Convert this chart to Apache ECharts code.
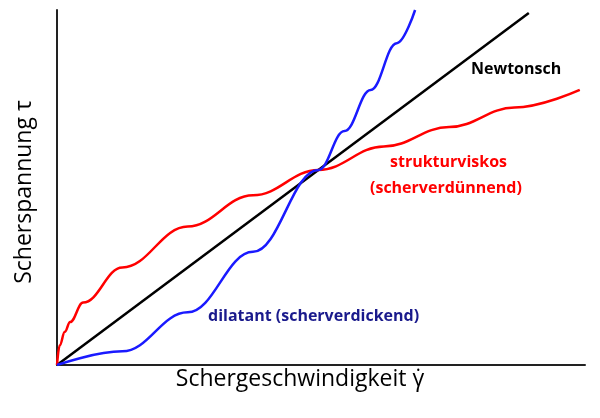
<!DOCTYPE html>
<html><head><meta charset="utf-8">
<script src="https://cdn.jsdelivr.net/npm/echarts@6/dist/echarts.min.js"></script>
<style>html,body{margin:0;background:#fff}#c{width:600px;height:418px}</style>
</head><body><div id="c"></div>
<script>
const newton = [[0,0],[1.805,1.805]];
const struktur = [[0,0],[0.01,0.1],[0.03,0.17],[0.05,0.22],[0.1,0.32],[0.25,0.5],[0.5,0.71],[0.75,0.87],[1,1],[1.25,1.12],[1.5,1.22],[1.75,1.32],[2,1.41]];
const dilatant = [[0,0],[0.25,0.07],[0.5,0.27],[0.75,0.58],[1,1],[1.1,1.2],[1.2,1.41],[1.3,1.65],[1.37,1.82]];
const chart = echarts.init(document.getElementById('c'));
const ax = {type:'value',min:0,splitLine:{show:false},axisTick:{show:false},axisLabel:{show:false},
  axisLine:{show:true,lineStyle:{color:'#222',width:2}}};
chart.setOption({
  animation:false,
  grid:{left:57,top:10,right:15,bottom:53},
  xAxis:Object.assign({},ax,{max:2.02}),
  yAxis:Object.assign({},ax,{max:1.82}),
  series:[
    {type:'line',data:newton,showSymbol:false,lineStyle:{color:'#000',width:2.5}},
    {type:'line',data:struktur,smooth:0.4,smoothMonotone:'x',showSymbol:false,lineStyle:{color:'#f00',width:2.5}},
    {type:'line',data:dilatant,smooth:0.4,smoothMonotone:'x',showSymbol:false,lineStyle:{color:'#1a1aff',width:2.5}}
  ],
  graphic:[
    {type:'text',left:'center',top:368,style:{text:'Schergeschwindigkeit γ̇',font:'23px "Open Sans", sans-serif',fill:'#000'}},
    {type:'text',x:24,y:192,rotation:Math.PI/2,style:{text:'Scherspannung τ',font:'23px "Open Sans", sans-serif',fill:'#000',align:'center',verticalAlign:'middle'}},
    {type:'text',x:471,y:61,style:{text:'Newtonsch',font:'bold 16px "Open Sans", sans-serif',fill:'#000'}},
    {type:'text',x:390,y:154,style:{text:'strukturviskos',font:'bold 16px "Open Sans", sans-serif',fill:'#f00'}},
    {type:'text',x:370,y:180,style:{text:'(scherverdünnend)',font:'bold 16px "Open Sans", sans-serif',fill:'#f00'}},
    {type:'text',x:208,y:308,style:{text:'dilatant (scherverdickend)',font:'bold 16px "Open Sans", sans-serif',fill:'#1a1a8c'}}
  ]
});
</script></body></html>
